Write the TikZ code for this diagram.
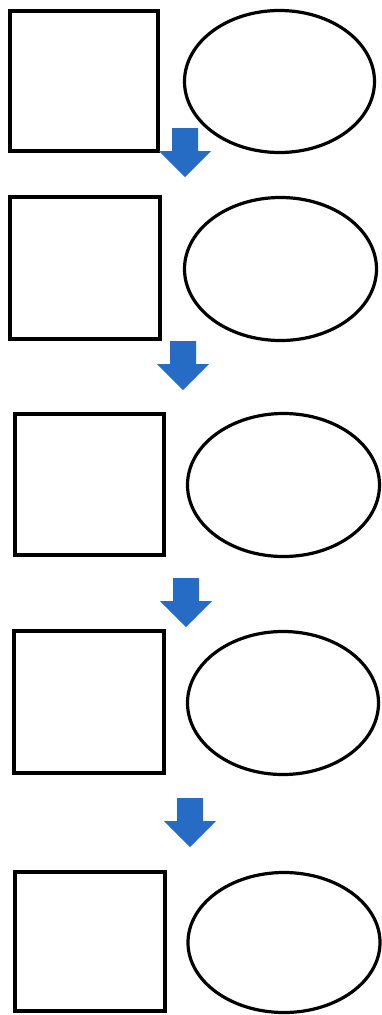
\documentclass[tikz,border=0pt]{standalone}
\usetikzlibrary{shapes.geometric}
\definecolor{arrowblue}{RGB}{38,108,196}
\newcommand\blockArrow[3]{% name, center x, top y
  \fill[arrowblue] ({#2-13},#3) -- ({#2+13},#3) -- ({#2+13},{#3+23}) -- ({#2+26},{#3+23})
    -- (#2,{#3+49}) -- ({#2-26},{#3+23}) -- ({#2-13},{#3+23}) -- cycle;
  \coordinate (#1) at (#2,{#3+49});}
\tikzset{
  box/.style={draw=black, line width=3.8pt, rectangle, inner sep=0pt, outer sep=0pt},
  oval/.style={draw=black, line width=3.2pt, ellipse, inner sep=0pt, outer sep=0pt},
}
\begin{document}
\begin{tikzpicture}[x=1pt,y=-1pt]
\fill[white] (0,0) rectangle (381,1015);
\useasboundingbox (0,0) rectangle (381,1015);
% row 1
\node[box, minimum width=148pt, minimum height=140pt] (r1) at (84,81) {};
\node[oval, minimum width=190pt, minimum height=142pt] (e1) at (279.5,81.5) {};
% row 2
\node[box, minimum width=150pt, minimum height=142pt] (r2) at (85,268) {};
\node[oval, minimum width=192pt, minimum height=143pt] (e2) at (280.5,269) {};
% row 3
\node[box, minimum width=149pt, minimum height=141pt] (r3) at (89.5,484.5) {};
\node[oval, minimum width=192pt, minimum height=143pt] (e3) at (283.5,485) {};
% row 4
\node[box, minimum width=150pt, minimum height=142pt] (r4) at (89,702) {};
\node[oval, minimum width=191pt, minimum height=143pt] (e4) at (283,703) {};
% row 5
\node[box, minimum width=150pt, minimum height=139pt] (r5) at (90,941.5) {};
\node[oval, minimum width=192pt, minimum height=140pt] (e5) at (284,942.5) {};
% arrows
\blockArrow{a1}{185}{128}
\blockArrow{a2}{183}{341}
\blockArrow{a3}{186}{578}
\blockArrow{a4}{190}{798}
\end{tikzpicture}
\end{document}
